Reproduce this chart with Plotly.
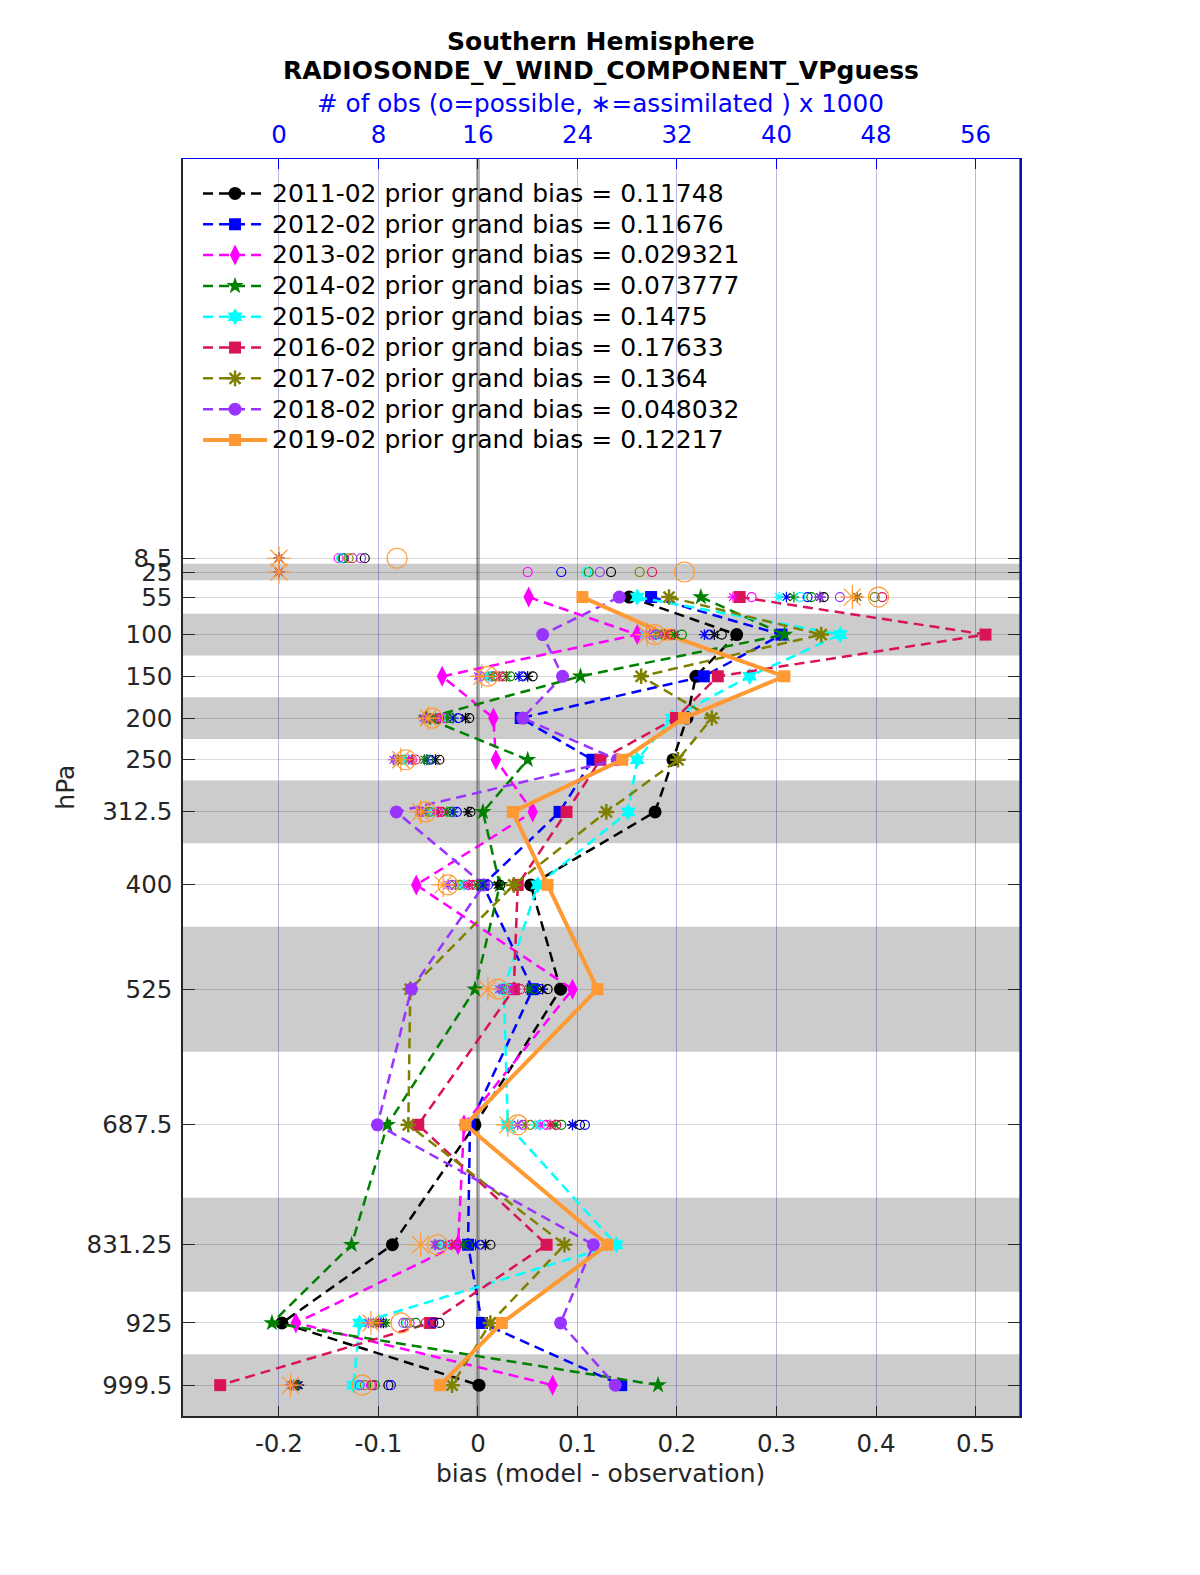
import plotly.graph_objects as go

# ---------------- data ----------------
levels = [8.5, 25, 55, 100, 150, 200, 250, 312.5, 400, 525, 687.5, 831.25, 925, 999.5]
level_labels = ["8.5", "25", "55", "100", "150", "200", "250", "312.5", "400", "525",
                "687.5", "831.25", "925", "999.5"]
level_edges = [2, 15, 35, 75, 125, 175, 225, 275, 350, 450, 600, 775, 887.5, 962.5, 1036.5]

series_names = ["2011-02", "2012-02", "2013-02", "2014-02", "2015-02",
                "2016-02", "2017-02", "2018-02", "2019-02"]
grand_bias = ["0.11748", "0.11676", "0.029321", "0.073777", "0.1475",
              "0.17633", "0.1364", "0.048032", "0.12217"]

N = None
bias_2011 = [N, N, 0.152, 0.260, 0.219, 0.210, 0.196, 0.178, 0.053, 0.083, -0.003, -0.086, -0.197, 0.001]
bias_2012 = [N, N, 0.174, 0.305, 0.227, 0.043, 0.115, 0.082, 0.005, 0.055, -0.008, -0.010, 0.004, 0.144]
bias_2013 = [N, N, 0.051, 0.160, -0.036, 0.0155, 0.018, 0.055, -0.062, 0.095, -0.014, -0.020, -0.183, 0.075]
bias_2014 = [N, N, 0.224, 0.308, 0.103, -0.052, 0.050, 0.005, 0.022, -0.003, -0.091, -0.127, -0.207, 0.181]
bias_2015 = [N, N, 0.160, 0.364, 0.273, 0.195, 0.160, 0.151, 0.060, 0.026, 0.030, 0.139, -0.119, -0.125]
bias_2016 = [N, N, 0.263, 0.510, 0.241, 0.199, 0.123, 0.089, 0.040, 0.036, -0.060, 0.069, -0.048, -0.259]
bias_2017 = [N, N, 0.192, 0.345, 0.164, 0.235, 0.201, 0.129, 0.036, -0.068, -0.070, 0.087, 0.0125, -0.026]
bias_2018 = [N, N, 0.142, 0.065, 0.085, 0.045, 0.140, -0.082, 0.006, -0.067, -0.101, 0.116, 0.083, 0.138]
bias_2019 = [N, N, 0.105, 0.190, 0.308, 0.207, 0.145, 0.035, 0.070, 0.120, -0.0125, 0.130, 0.024, -0.038]

# number of observations (x1000): possible (o) and assimilated (*)
poss_2011 = [6.9, 26.7, 43.8, 35.6, 20.4, 15.3, 12.9, 15.4, 17.8, 21.6, 24.2, 17.0, 12.9, 8.8]
assim_2011 = [0, 0, 43.5, 35.0, 20.0, 15.0, 12.6, 15.2, 17.6, 21.2, 23.6, 16.6, 8.4, 1.6]
poss_2012 = [5.2, 22.7, 42.5, 34.6, 19.6, 14.4, 12.2, 14.3, 16.8, 21.0, 24.6, 16.2, 12.4, 9.0]
assim_2012 = [0, 0, 40.8, 34.2, 19.3, 14.0, 11.9, 14.0, 16.4, 20.6, 23.6, 15.8, 8.2, 1.5]
poss_2013 = [4.8, 20.0, 38.0, 30.0, 17.2, 13.3, 10.7, 12.8, 15.2, 18.9, 21.5, 13.8, 10.5, 7.4]
assim_2013 = [0, 0, 36.5, 29.0, 16.9, 13.0, 10.4, 12.5, 14.9, 18.6, 21.0, 13.4, 7.6, 1.0]
poss_2014 = [5.1, 24.9, 42.8, 32.4, 18.6, 13.8, 12.0, 13.8, 16.2, 20.5, 22.7, 15.2, 11.0, 7.7]
assim_2014 = [0, 0, 41.4, 31.8, 18.3, 13.5, 11.7, 13.5, 15.9, 20.1, 22.2, 14.8, 8.6, 1.4]
poss_2015 = [5.0, 24.7, 41.9, 30.5, 17.0, 13.0, 10.4, 12.4, 14.9, 18.5, 21.0, 13.3, 10.3, 6.4]
assim_2015 = [0, 0, 40.2, 29.3, 16.7, 12.6, 10.1, 12.1, 14.6, 18.2, 20.6, 12.9, 7.4, 0.9]
poss_2016 = [5.9, 30.0, 48.5, 31.6, 18.0, 12.9, 11.0, 13.1, 15.6, 19.4, 22.3, 14.3, 11.8, 7.5]
assim_2016 = [0, 0, 46.5, 31.0, 17.7, 12.6, 10.7, 12.8, 15.3, 19.0, 21.8, 13.9, 8.0, 1.2]
poss_2017 = [5.6, 29.0, 47.9, 30.9, 17.4, 12.2, 9.9, 12.1, 14.5, 18.2, 20.2, 13.0, 10.2, 6.9]
assim_2017 = [0, 0, 46.5, 30.3, 17.1, 11.9, 9.6, 11.8, 14.2, 17.9, 19.8, 12.6, 7.8, 1.0]
poss_2018 = [6.6, 25.8, 45.1, 30.3, 16.2, 11.9, 9.4, 11.5, 13.9, 18.0, 19.6, 12.9, 10.0, 6.5]
assim_2018 = [0, 0, 43.5, 29.8, 16.0, 11.6, 9.2, 11.3, 13.6, 17.7, 19.2, 12.5, 7.2, 0.9]
poss_2019 = [9.5, 32.6, 48.2, 30.2, 16.8, 12.35, 10.2, 11.8, 13.6, 17.6, 19.2, 12.75, 9.8, 6.7]
assim_2019 = [0, 0, 46.1, 29.6, 16.3, 12.0, 9.8, 11.4, 13.2, 16.8, 18.4, 11.4, 7.4, 0.93]

bias_ticks = [-0.2, -0.1, 0, 0.1, 0.2, 0.3, 0.4, 0.5]
bias_ticktext = ["-0.2", "-0.1", "0", "0.1", "0.2", "0.3", "0.4", "0.5"]
obs_ticks = [0, 8, 16, 24, 32, 40, 48, 56]

# ---------------- styles ----------------
biases = [bias_2011, bias_2012, bias_2013, bias_2014, bias_2015, bias_2016, bias_2017, bias_2018, bias_2019]
possibles = [poss_2011, poss_2012, poss_2013, poss_2014, poss_2015, poss_2016, poss_2017, poss_2018, poss_2019]
assims = [assim_2011, assim_2012, assim_2013, assim_2014, assim_2015, assim_2016, assim_2017, assim_2018, assim_2019]
colors = ["#000000", "#0000ff", "#ff00ff", "#008000", "#00ffff",
          "#d81356", "#808000", "#9933ff", "#ff9933"]
symbols = ["circle", "square", "diamond-tall", "star", "hexagram",
           "square", "asterisk-open", "circle", "square"]
sizes = [13, 12, 15, 13, 13, 12, 13, 13, 12]

xr = [-0.2964, 0.5447]
x2r = [(xr[0] + 0.2) * 80, (xr[1] + 0.2) * 80]
yr = [1036.5, -470]

FONT = "DejaVu Sans"

# screen -> figure pixel correction (page offset)
def fxs(sx):
    return (sx - 6) / 0.997

def fys(sy):
    return (sy - 6) / 0.997

L = fxs(180)
R = 1200 - fxs(1015)
T = fys(157)
B = 1575 - fys(1410)
PW = 1200 - L - R
PH = 1575 - T - B

def px(sx):
    return (fxs(sx) - L) / PW

def py(sy):
    return (1575 - B - fys(sy)) / PH

fig = go.Figure()

for i in range(9):
    last = (i == 8)
    fig.add_trace(go.Scatter(
        x=biases[i], y=levels, mode="lines+markers",
        name=f"<span style='font-size:25px'>{series_names[i]} prior grand bias = {grand_bias[i]}</span>",
        line=dict(color=colors[i], width=4 if last else 2.5, dash="solid" if last else "10px,6px"),
        marker=dict(symbol=symbols[i], size=sizes[i], color=colors[i],
                    line=dict(color=colors[i], width=2.5 if symbols[i] == "asterisk-open" else 0)),
        connectgaps=False,
    ))

for i in range(9):
    last = (i == 8)
    fig.add_trace(go.Scatter(
        x=possibles[i], y=levels, xaxis="x2", yaxis="y", mode="markers", showlegend=False,
        marker=dict(symbol="circle-open", size=20 if last else 9, color=colors[i],
                    line=dict(color=colors[i], width=1.2)),
    ))
    fig.add_trace(go.Scatter(
        x=assims[i], y=levels, xaxis="x2", yaxis="y", mode="markers", showlegend=False,
        marker=dict(symbol="asterisk-open", size=20 if last else 9, color=colors[i],
                    line=dict(color=colors[i], width=1.2)),
    ))

shapes = []
for k in range(len(levels)):
    if k % 2 == 1:
        shapes.append(dict(type="rect", xref="paper", yref="y", x0=0, x1=1,
                           y0=level_edges[k], y1=level_edges[k + 1],
                           fillcolor="#cccccc", line=dict(width=0), layer="below"))
shapes.append(dict(type="line", xref="x", yref="paper", x0=0, x1=0, y0=0, y1=1,
                   line=dict(color="rgba(120,120,120,0.55)", width=4), layer="between"))
shapes.append(dict(type="line", xref="paper", yref="paper", x0=1, x1=1, y0=0, y1=1,
                   line=dict(color="#0000ff", width=1.2), layer="above"))

fig.update_layout(
    width=1200, height=1575,
    margin=dict(l=L, r=R, t=T, b=B),
    paper_bgcolor="white", plot_bgcolor="white",
    font=dict(family=FONT, size=24.5, color="#262626"),
    showlegend=True,
    legend=dict(x=px(195), y=py(171), xanchor="left", yanchor="top",
                bgcolor="rgba(0,0,0,0)", borderwidth=0,
                font=dict(family=FONT, size=21.4, color="black"),
                itemwidth=64, tracegroupgap=0),
    xaxis=dict(range=xr, tickvals=bias_ticks, ticktext=bias_ticktext,
               ticks="inside", ticklen=10, tickcolor="#262626",
               showline=True, linecolor="#262626", linewidth=1.5,
               showgrid=True, gridcolor="rgba(0,0,160,0.28)", gridwidth=1,
               zeroline=False, ticklabelstandoff=5,
               tickfont=dict(size=24.5, color="#262626")),
    xaxis2=dict(range=x2r, overlaying="x", side="top", tickvals=obs_ticks,
                ticks="inside", ticklen=10, tickcolor="#0000ff",
                showline=True, linecolor="#0000ff", linewidth=1.2,
                showgrid=False, zeroline=False, ticklabelstandoff=5,
                tickfont=dict(size=24.5, color="#0000ff")),
    yaxis=dict(range=yr, tickvals=levels, ticktext=level_labels,
               ticks="inside", ticklen=12, tickcolor="#262626",
               showline=True, linecolor="#262626", linewidth=1.5, mirror="ticks",
               showgrid=True, gridcolor="rgba(0,0,0,0.15)", gridwidth=1,
               zeroline=False, ticklabelstandoff=4,
               tickfont=dict(size=24.5, color="#262626")),
    shapes=shapes,
)

fig.add_annotation(text="<b>Southern Hemisphere</b>", xref="paper", yref="paper",
                   x=px(597), y=py(40), showarrow=False, yanchor="middle",
                   font=dict(family=FONT, size=25, color="black"))
fig.add_annotation(text="<b>RADIOSONDE_V_WIND_COMPONENT_VPguess</b>", xref="paper", yref="paper",
                   x=px(597), y=py(69), showarrow=False, yanchor="middle",
                   font=dict(family=FONT, size=25, color="black"))
fig.add_annotation(text="# of obs (o=possible, \u2217=assimilated ) x 1000", xref="paper", yref="paper",
                   x=px(597), y=py(102), showarrow=False, yanchor="middle",
                   font=dict(family=FONT, size=24.7, color="#0000ff"))
fig.add_annotation(text="bias (model - observation)", xref="paper", yref="paper",
                   x=px(597), y=py(1467), showarrow=False, yanchor="middle",
                   font=dict(family=FONT, size=25, color="#262626"))
fig.add_annotation(text="hPa", xref="paper", yref="paper", textangle=-90,
                   x=px(63), y=py(783), showarrow=False, xanchor="center", yanchor="middle",
                   font=dict(family=FONT, size=25, color="#262626"))

fig.write_html("out.html")
